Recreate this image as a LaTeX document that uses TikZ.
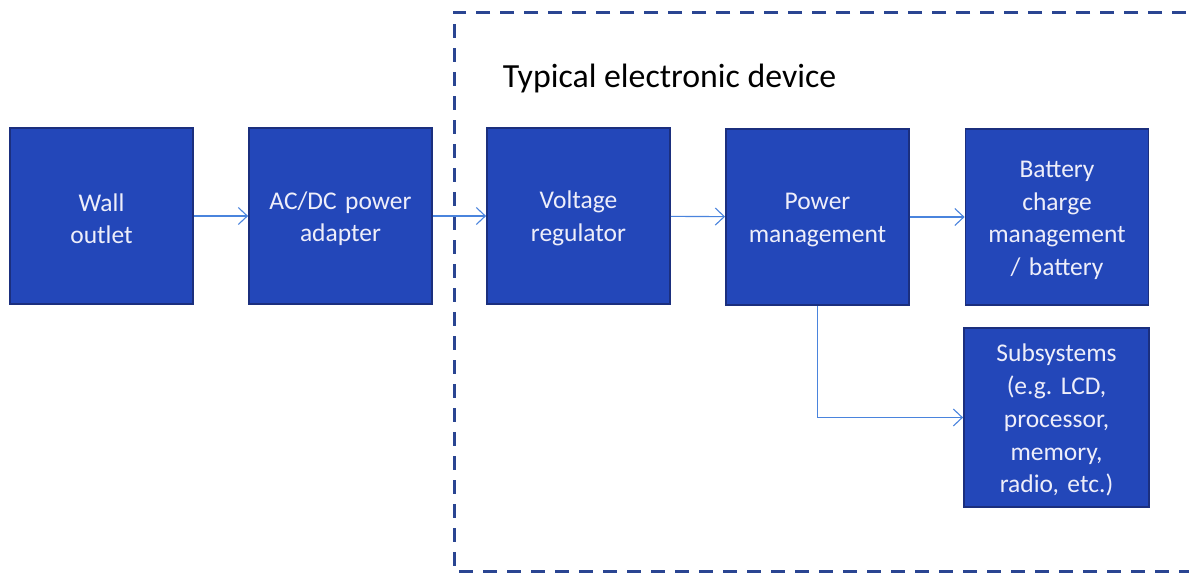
\documentclass[tikz,border=0pt]{standalone}
\usepackage{fontspec}
\setmainfont{Carlito}
\usetikzlibrary{arrows.meta}
\frenchspacing
\definecolor{boxfill}{HTML}{2347B9}
\definecolor{boxedge}{HTML}{1B2F7E}
\definecolor{boxtext}{HTML}{EEEEFA}
\definecolor{arrowblue}{HTML}{4A84DD}
\definecolor{dashblue}{HTML}{2A4592}
\tikzset{
  blockbox/.style={draw=boxedge, line width=1.8pt, fill=boxfill, text=boxtext,
    minimum width=183pt, minimum height=176pt, inner sep=0pt, text width=178pt,
    align=center, font=\fontsize{25.5}{32.8}\selectfont\frenchspacing,
    execute at begin node={\rule{0pt}{23pt}}},
  flowarrow/.style={draw=arrowblue, line width=1.1pt, -{Straight Barb[length=9pt,width=17pt,line width=1.1pt]}},
  devicebox/.style={draw=dashblue, line width=3pt, dash pattern=on 14pt off 10pt}
}
\begin{document}
\begin{tikzpicture}[x=1pt,y=-1pt]
\useasboundingbox (0,0) rectangle (1189,573);
\clip (0,0) rectangle (1189,573);
\fill[white] (0,0) rectangle (1189,573);
\draw[devicebox] (1210,12) -- (454,12) -- (454,571) -- (1210,571);
\node[font=\fontsize{33.8}{38}\selectfont, anchor=center] (title) at (669.5,78) {Typical electronic device};
\node[blockbox] (wall) at (101.5,216) {Wall\\outlet};
\node[blockbox] (adapter) at (340.5,216) {AC/DC power\\adapter};
\node[blockbox] (reg) at (578.5,216) {Voltage\\regulator};
\node[blockbox] (pm) at (817.5,217) {Power\\management};
\node[blockbox] (bat) at (1057,217) {Battery\\charge\\management\\/ battery};
\node[blockbox, minimum width=185pt, minimum height=179pt] (sub) at (1056.5,417.5) {Subsystems\\(e.g. LCD,\\processor,\\memory,\\radio, etc.)};
\draw[flowarrow] (wall) -- (adapter);
\draw[flowarrow] (adapter) -- (reg);
\draw[flowarrow] (reg) -- (pm);
\draw[flowarrow] (pm) -- (bat);
\draw[flowarrow] (pm.south) |- (sub.west);
\end{tikzpicture}
\end{document}
